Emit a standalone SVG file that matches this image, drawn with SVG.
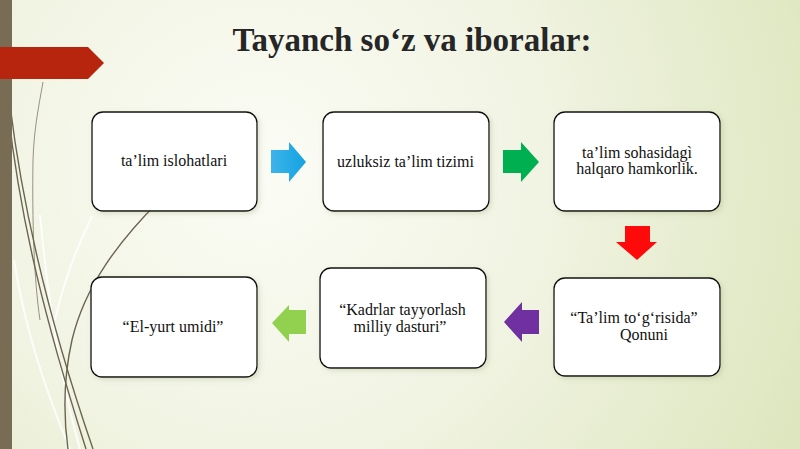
<svg xmlns="http://www.w3.org/2000/svg" width="800" height="449" viewBox="0 0 800 449">
  <defs>
    <radialGradient id="bg" cx="260" cy="170" r="620" gradientUnits="userSpaceOnUse">
      <stop offset="0" stop-color="#FBFCF5"/>
      <stop offset="0.45" stop-color="#F1F4E3"/>
      <stop offset="1" stop-color="#DCE5BC"/>
    </radialGradient>
    <linearGradient id="blue" x1="0" y1="0" x2="1" y2="0">
      <stop offset="0" stop-color="#3DB3EA"/>
      <stop offset="1" stop-color="#14A3E2"/>
    </linearGradient>
    <filter id="sh" x="-10%" y="-10%" width="130%" height="130%">
      <feDropShadow dx="2" dy="2" stdDeviation="2.5" flood-color="#8A9060" flood-opacity="0.25"/>
    </filter>
    <style>
      .box { fill: #FFFFFF; stroke: #111111; stroke-width: 1.3; }
      .lbl { font-family: "Liberation Serif", "Times New Roman", serif; font-size: 16px; fill: #111111; text-anchor: middle; }
      .title { font-family: "Liberation Serif", "Times New Roman", serif; font-size: 33px; font-weight: bold; fill: #262626; text-anchor: middle; }
      .wisp { fill: none; stroke: #6B6450; stroke-width: 1.4; }
      .wispThin { fill: none; stroke: #8C8670; stroke-width: 0.9; }
      .wispFaint { fill: none; stroke: #FFFFFF; stroke-width: 2; opacity: 0.8; }
    </style>
  </defs>

  <!-- background -->
  <rect x="0" y="0" width="800" height="449" fill="url(#bg)"/>

  <!-- wisp decoration -->
  <g id="decoration">
    <path class="wispFaint" d="M92,216 C78,245 64,280 55,320"/>
    <path class="wispFaint" d="M14,260 C25,330 45,390 70,449"/>
    <path class="wispFaint" d="M40,215 C48,300 60,380 80,449"/>
    <path class="wispThin" d="M43,82 C38,110 34,130 33,160 C32,220 34,280 40,320"/>
    <path class="wisp" d="M8,110 C20,220 45,320 86,449"/>
    <path class="wisp" d="M10,105 C24,220 52,330 93,449"/>
    <path class="wisp" d="M160,200 C120,240 85,285 72,340 C63,380 64,420 68,449"/>
  </g>

  <!-- left bar -->
  <rect x="0" y="0" width="12" height="449" fill="#786D54"/>
  <!-- red banner -->
  <path d="M0,47 H88 L104,63 L88,79 H0 Z" fill="#B7250F"/>

  <!-- title -->
  <text class="title" x="412" y="51">Tayanch so‘z va iboralar:</text>

  <!-- connectors -->
  <g id="connectors">
    <path d="M271,150 H289 V142 L306,162 L289,182 V173 H271 Z" fill="url(#blue)"/>
    <path d="M503,150 H521 V142 L539,162 L521,182 V173 H503 Z" fill="#00B050"/>
    <path d="M625,226 H650 V242 H657 L637,260 L616,242 H625 Z" fill="#FF0A0A"/>
    <path d="M539,310 H522 V302 L504,322 L522,342 V334 H539 Z" fill="#7030A0"/>
    <path d="M306,310 H289 V305 L272,323 L289,342 V334 H306 Z" fill="#92D050"/>
  </g>

  <!-- nodes -->
  <g id="node1">
    <rect class="box" x="92" y="112" width="165" height="99" rx="11" filter="url(#sh)"/>
    <text class="lbl" x="174" y="166">ta’lim islohatlari</text>
  </g>
  <g id="node2">
    <rect class="box" x="323" y="112" width="166" height="99" rx="11" filter="url(#sh)"/>
    <text class="lbl" x="405.5" y="166.5">uzluksiz ta’lim tizimi</text>
  </g>
  <g id="node3">
    <rect class="box" x="554" y="112" width="166" height="99" rx="11" filter="url(#sh)"/>
    <text class="lbl" x="637" y="157.5">ta’lim sohasidagì</text>
    <text class="lbl" x="637" y="174">halqaro hamkorlik.</text>
  </g>
  <g id="node4">
    <rect class="box" x="554" y="278" width="166" height="98" rx="11" filter="url(#sh)"/>
    <text class="lbl" x="634" y="323">“Ta’lim to‘g‘risida”</text>
    <text class="lbl" x="644" y="340">Qonuni</text>
  </g>
  <g id="node5">
    <rect class="box" x="320" y="268" width="166" height="100" rx="11" filter="url(#sh)"/>
    <text class="lbl" x="402.5" y="315">“Kadrlar tayyorlash</text>
    <text class="lbl" x="400" y="331.5">milliy dasturi”</text>
  </g>
  <g id="node6">
    <rect class="box" x="91" y="277" width="166" height="100" rx="11" filter="url(#sh)"/>
    <text class="lbl" x="173" y="332">“El-yurt umidi”</text>
  </g>
</svg>
